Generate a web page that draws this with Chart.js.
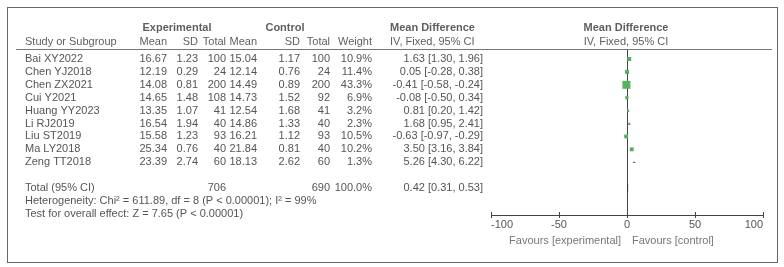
<!DOCTYPE html>
<html>
<head>
<meta charset="utf-8">
<script src="https://cdn.jsdelivr.net/npm/chart.js@4.4.1/dist/chart.umd.min.js"></script>
<style>
  html, body { margin: 0; padding: 0; background: #fff; }
  #wrap { width: 784px; height: 267px; }
</style>
</head>
<body>
<div id="wrap"><canvas id="forest" width="784" height="267"></canvas></div>
<script>
// study data
const studies = ["Bai XY2022", "Chen YJ2018", "Chen ZX2021", "Cui Y2021", "Huang YY2023", "Li RJ2019", "Liu ST2019", "Ma LY2018", "Zeng TT2018"];
const expMean = ["16.67", "12.19", "14.08", "14.65", "13.35", "16.54", "15.58", "25.34", "23.39"];
const expSD = ["1.23", "0.29", "0.81", "1.48", "1.07", "1.94", "1.23", "0.76", "2.74"];
const expN = [100, 24, 200, 108, 41, 40, 93, 40, 60];
const ctlMean = ["15.04", "12.14", "14.49", "14.73", "12.54", "14.86", "16.21", "21.84", "18.13"];
const ctlSD = ["1.17", "0.76", "0.89", "1.52", "1.68", "1.33", "1.12", "0.81", "2.62"];
const ctlN = [100, 24, 200, 92, 41, 40, 93, 40, 60];
const weight = [10.9, 11.4, 43.3, 6.9, 3.2, 2.3, 10.5, 10.2, 1.3];
const md = [1.63, 0.05, -0.41, -0.08, 0.81, 1.68, -0.63, 3.50, 5.26];
const mdLo = [1.30, -0.28, -0.58, -0.50, 0.20, 0.95, -0.97, 3.16, 4.30];
const mdHi = [1.96, 0.38, -0.24, 0.34, 1.42, 2.41, -0.29, 3.84, 6.22];

const total = { md: 0.42, lo: 0.31, hi: 0.53, expN: 706, ctlN: 690, weight: "100.0%" };
const heterogeneity = "Heterogeneity: Chi\u00B2 = 611.89, df = 8 (P < 0.00001); I\u00B2 = 99%";
const overallTest = "Test for overall effect: Z = 7.65 (P < 0.00001)";
const xTicks = [-100, -50, 0, 50, 100];
const favours = ["Favours [experimental]", "Favours [control]"];

const FONT = "'Liberation Sans', Arial, sans-serif";
const TEXT = "#555";
const HEAD = "#5f5f5f";
const GREEN = "#55b55e";

const fmt = (v) => v.toFixed(2);
const ciText = (m, lo, hi) => `${fmt(m)} [${fmt(lo)}, ${fmt(hi)}]`;

// table text, frame, CI whiskers and axis ticks drawn on the same canvas
const forestText = {
  id: "forestText",
  afterDraw(chart) {
    const { ctx } = chart;
    const x = chart.scales.x;
    const y = chart.scales.y;

    ctx.save();
    // outer frame
    ctx.strokeStyle = "#666";
    ctx.lineWidth = 1;
    ctx.strokeRect(7.5, 7.5, 770, 255);

    // header underline
    ctx.strokeStyle = "#777";
    ctx.beginPath();
    ctx.moveTo(16, Math.round(y.top) + 0.5);
    ctx.lineTo(772, Math.round(y.top) + 0.5);
    ctx.stroke();

    const put = (txt, px, row, align, bold, color) => {
      ctx.font = `${bold ? "bold " : ""}11px ${FONT}`;
      ctx.fillStyle = color || TEXT;
      ctx.textAlign = align;
      ctx.textBaseline = "middle";
      ctx.fillText(txt, px, y.getPixelForValue(row));
    };

    // header rows
    const h1 = -2.4, h2 = -1.32;
    put("Experimental", 177, h1, "center", true, HEAD);
    put("Control", 285, h1, "center", true, HEAD);
    put("Mean Difference", 390, h1, "left", true, HEAD);
    put("Mean Difference", 626, h1, "center", true, HEAD);
    put("Study or Subgroup", 25, h2, "left", false, HEAD);
    put("Mean", 167, h2, "right", false, HEAD);
    put("SD", 198, h2, "right", false, HEAD);
    put("Total", 226, h2, "right", false, HEAD);
    put("Mean", 257, h2, "right", false, HEAD);
    put("SD", 300, h2, "right", false, HEAD);
    put("Total", 330, h2, "right", false, HEAD);
    put("Weight", 372, h2, "right", false, HEAD);
    put("IV, Fixed, 95% CI", 390, h2, "left", false, HEAD);
    put("IV, Fixed, 95% CI", 626, h2, "center", false, HEAD);

    // study rows
    studies.forEach((s, i) => {
      put(s, 25, i, "left");
      put(expMean[i], 167, i, "right");
      put(expSD[i], 198, i, "right");
      put(String(expN[i]), 226, i, "right");
      put(ctlMean[i], 257, i, "right");
      put(ctlSD[i], 300, i, "right");
      put(String(ctlN[i]), 330, i, "right");
      put(weight[i].toFixed(1) + "%", 372, i, "right");
      put(ciText(md[i], mdLo[i], mdHi[i]), 483, i, "right");

      // CI whisker
      const py = Math.round(y.getPixelForValue(i)) + 0.5;
      ctx.strokeStyle = "#777";
      ctx.beginPath();
      ctx.moveTo(x.getPixelForValue(mdLo[i]), py);
      ctx.lineTo(x.getPixelForValue(mdHi[i]), py);
      ctx.stroke();
    });

    // totals and footnotes
    put("Total (95% CI)", 25, 10, "left");
    put(String(total.expN), 226, 10, "right");
    put(String(total.ctlN), 330, 10, "right");
    put(total.weight, 372, 10, "right");
    put(ciText(total.md, total.lo, total.hi), 483, 10, "right");
    put(heterogeneity, 25, 11, "left");
    put(overallTest, 25, 12, "left");

    // tick marks crossing the axis line
    ctx.strokeStyle = "#444";
    xTicks.forEach((t) => {
      const px = Math.round(x.getPixelForValue(t)) + 0.5;
      ctx.beginPath();
      ctx.moveTo(px, x.top - 3);
      ctx.lineTo(px, x.top + 3);
      ctx.stroke();
    });

    // favours labels under the axis
    ctx.font = `11px ${FONT}`;
    ctx.fillStyle = "#777";
    ctx.textBaseline = "middle";
    const zero = x.getPixelForValue(0);
    ctx.textAlign = "right";
    ctx.fillText(favours[0], zero - 6, 241);
    ctx.textAlign = "left";
    ctx.fillText(favours[1], zero + 5, 241);
    ctx.restore();
  }
};

const ctx = document.getElementById("forest").getContext("2d");

new Chart(ctx, {
  type: "scatter",
  data: {
    datasets: [
      {
        label: "Studies",
        data: studies.map((s, i) => ({ x: md[i], y: i })),
        pointStyle: "rect",
        pointRadius: weight.map(w => 5.66 * Math.sqrt(w / 43.3)),
        backgroundColor: GREEN,
        borderColor: GREEN,
        borderWidth: 0
      },
      {
        label: "Total",
        data: [
          { x: total.lo, y: 10 },
          { x: total.md, y: 9.7 },
          { x: total.hi, y: 10 },
          { x: total.md, y: 10.3 },
          { x: total.lo, y: 10 }
        ],
        showLine: true,
        pointRadius: 0,
        borderColor: "#333",
        borderWidth: 1
      }
    ]
  },
  options: {
    responsive: false,
    animation: false,
    layout: { padding: { left: 491, right: 21, top: 49, bottom: 35 } },
    plugins: {
      legend: { display: false },
      tooltip: { enabled: false }
    },
    scales: {
      x: {
        type: "linear",
        min: -100,
        max: 100,
        afterBuildTicks: (scale) => { scale.ticks = xTicks.map(v => ({ value: v })); },
        afterFit: (scale) => { scale.height = 17; },
        ticks: { color: TEXT, font: { family: FONT, size: 11 }, padding: 3, align: "inner" },
        grid: {
          drawTicks: false,
          color: (c) => (c.tick && c.tick.value === 0 ? "#444" : "rgba(0,0,0,0)")
        },
        border: { color: "#444" }
      },
      y: {
        type: "linear",
        display: false,
        reverse: true,
        min: -0.775,
        max: 12.09
      }
    }
  },
  plugins: [forestText]
});
</script>
</body>
</html>
